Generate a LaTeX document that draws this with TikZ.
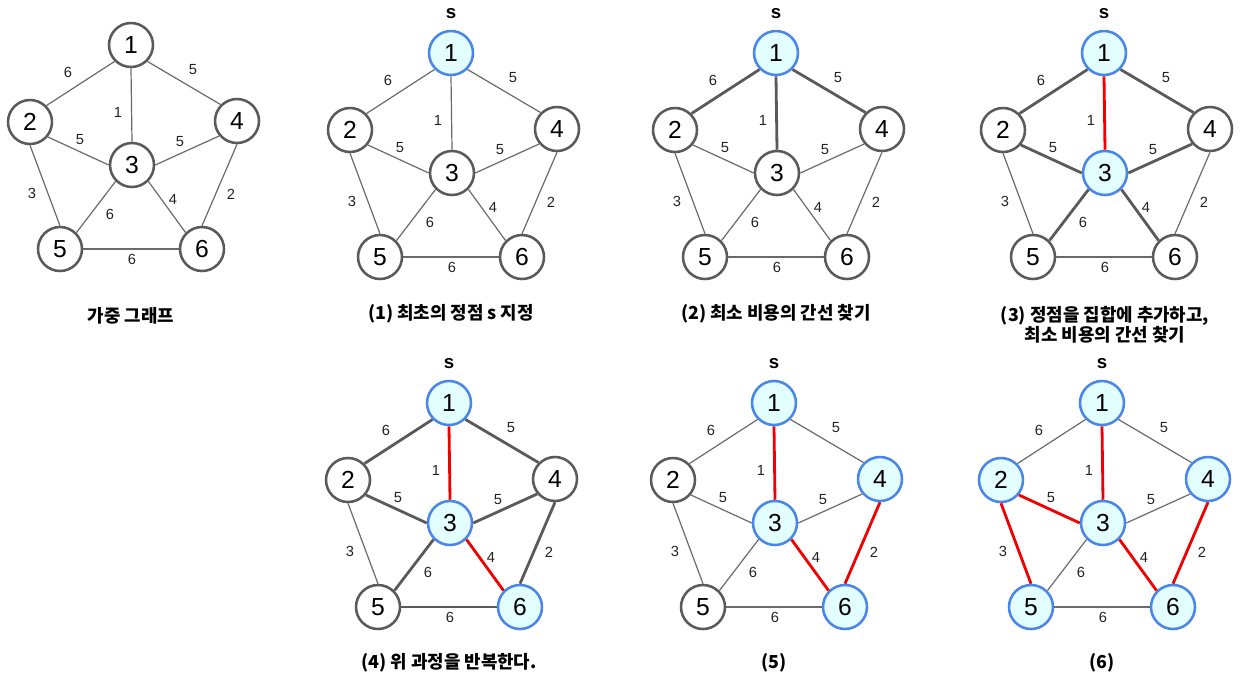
\documentclass[tikz,border=0pt]{standalone}
\usepackage{fontspec}
\setmainfont{Liberation Sans}
\newfontfamily\kr{Noto Sans CJK KR}
\definecolor{ngray}{HTML}{5A5A5A}
\definecolor{egray}{HTML}{6A6A6A}
\definecolor{nblue}{HTML}{4A86E8}
\definecolor{ncyan}{HTML}{E3FEFF}
\definecolor{ered}{HTML}{F00000}
\definecolor{ltext}{HTML}{222222}
\tikzset{
  vtx/.style={circle, draw=ngray, line width=1.9pt, fill=white, minimum size=33pt, inner sep=0pt, font=\fontsize{18.5}{18.5}\selectfont},
  sel/.style={vtx, draw=nblue, fill=ncyan},
  thinedge/.style={draw=egray, line width=0.9pt},
  thickedge/.style={draw=ngray, line width=2.1pt},
  rededge/.style={draw=ered, line width=2.1pt},
  wlab/.style={font=\fontsize{11}{11}\selectfont, text=ltext, inner sep=0pt},
  slab/.style={font=\bfseries\fontsize{14}{14}\selectfont, inner sep=0pt},
  captext/.style={font=\kr\bfseries\fontsize{13.4}{15}\selectfont, align=center, inner sep=0pt},
  e12/.style=thinedge, e13/.style=thinedge, e14/.style=thinedge,
  e23/.style=thinedge, e34/.style=thinedge, e25/.style=thinedge,
  e35/.style=thinedge, e36/.style=thinedge, e46/.style=thinedge,
  e56/.style=thinedge,
}
\newcommand\graphat[9]{%
  \begin{scope}[shift={(#2,#3)}]
    \node[#4] (#1-1) at (0,0) {1};
    \node[#5] (#1-2) at (-101,77) {2};
    \node[#6] (#1-3) at (1,120) {3};
    \node[#7] (#1-4) at (106,76) {4};
    \node[#8] (#1-5) at (-71,204) {5};
    \node[#9] (#1-6) at (71,204) {6};
    \draw[e12] (#1-1.south west) -- (#1-2.north east);
    \draw[e13] (#1-1.south) -- (#1-3.north);
    \draw[e14] (#1-1.south east) -- (#1-4.north west);
    \draw[e23] (#1-2.-40) -- (#1-3.west);
    \draw[e34] (#1-3.east) -- (#1-4.-140);
    \draw[e25] (#1-2.south) -- (#1-5.north);
    \draw[e35] (#1-3.south west) -- (#1-5.north east);
    \draw[e36] (#1-3.south east) -- (#1-6.north west);
    \draw[e46] (#1-4.south) -- (#1-6.north);
    \draw[e56] (#1-5.east) -- (#1-6.west);
    \node[wlab] (#1-l12) at (-63,27) {6};
    \node[wlab] (#1-l14) at (62,25) {5};
    \node[wlab] (#1-l13) at (-13,67) {1};
    \node[wlab] (#1-l23) at (-51,95) {5};
    \node[wlab] (#1-l34) at (49,97) {5};
    \node[wlab] (#1-l25) at (-99,148) {3};
    \node[wlab] (#1-l36) at (42,154) {4};
    \node[wlab] (#1-l46) at (100,149) {2};
    \node[wlab] (#1-l35) at (-21,169) {6};
    \node[wlab] (#1-l56) at (1,214) {6};
  \end{scope}}
\begin{document}
\begin{tikzpicture}[x=0.75pt, y=-0.75pt]
\useasboundingbox (0,0) rectangle (1255,687);
% graph 0
\graphat{ga}{131}{45}{vtx}{vtx}{vtx}{vtx}{vtx}{vtx}
\node[captext] (capa) at (131,316) {가중 그래프};
% graph 1
\graphat{gb}{451}{53}{sel}{vtx}{vtx}{vtx}{vtx}{vtx}
\node[slab] (sb) at (451,14) {s};
\node[captext] (capb) at (451,314) {(1) 최초의 정점 s 지정};
% graph 2
\begin{scope}[e12/.style=thickedge, e13/.style=thickedge, e14/.style=thickedge]
\graphat{gc}{776}{53}{sel}{vtx}{vtx}{vtx}{vtx}{vtx}
\end{scope}
\node[slab] (sc) at (776,14) {s};
\node[captext] (capc) at (776,314) {(2) 최소 비용의 간선 찾기};
% graph 3
\begin{scope}[e13/.style=rededge, e12/.style=thickedge, e14/.style=thickedge,
  e23/.style=thickedge, e34/.style=thickedge, e35/.style=thickedge, e36/.style=thickedge]
\graphat{gd}{1104}{53}{sel}{vtx}{sel}{vtx}{vtx}{vtx}
\end{scope}
\node[slab] (sd) at (1104,14) {s};
\node[captext] (capd) at (1105,325) {(3) 정점을 집합에 추가하고,\\최소 비용의 간선 찾기};
% graph 4
\begin{scope}[e13/.style=rededge, e36/.style=rededge, e12/.style=thickedge, e14/.style=thickedge,
  e23/.style=thickedge, e34/.style=thickedge, e35/.style=thickedge, e46/.style=thickedge, e56/.style=thickedge]
\graphat{ge}{449}{403}{sel}{vtx}{sel}{vtx}{vtx}{sel}
\end{scope}
\node[slab] (se) at (449,364) {s};
\node[captext] (cape) at (449,663) {(4) 위 과정을 반복한다.};
% graph 5
\begin{scope}[e13/.style=rededge, e36/.style=rededge, e46/.style=rededge]
\graphat{gf}{774}{403}{sel}{vtx}{sel}{sel}{vtx}{sel}
\end{scope}
\node[slab] (sf) at (774,364) {s};
\node[captext] (capf) at (774,663) {(5)};
% graph 6
\begin{scope}[e13/.style=rededge, e36/.style=rededge, e46/.style=rededge, e23/.style=rededge, e25/.style=rededge]
\graphat{gg}{1102}{403}{sel}{sel}{sel}{sel}{sel}{sel}
\end{scope}
\node[slab] (sg) at (1102,364) {s};
\node[captext] (capg) at (1102,663) {(6)};
\end{tikzpicture}
\end{document}
